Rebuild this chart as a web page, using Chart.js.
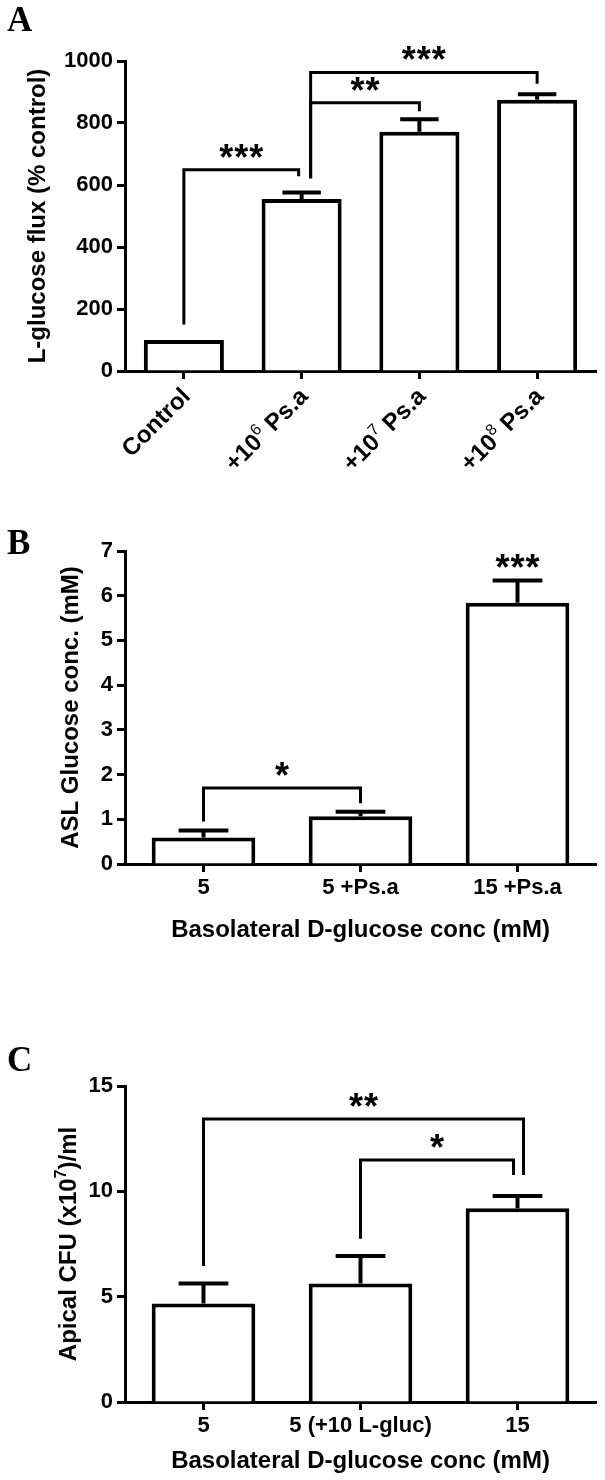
<!DOCTYPE html>
<html>
<head>
<meta charset="utf-8">
<title>L-glucose flux, ASL glucose and apical CFU</title>
<script src="https://cdn.jsdelivr.net/npm/chart.js@4.4.1/dist/chart.umd.min.js"></script>
<style>
  html, body { margin: 0; padding: 0; background: #fff; }
  #page { position: relative; width: 605px; height: 1480px; overflow: hidden; }
  .panel { position: absolute; left: 0; width: 605px; }
</style>
</head>
<body>
<div id="page">
  <div class="panel" style="top:0;height:475px"><canvas id="chartA"></canvas></div>
  <div class="panel" style="top:475px;height:475px"><canvas id="chartB"></canvas></div>
  <div class="panel" style="top:950px;height:530px"><canvas id="chartC"></canvas></div>
</div>
<script>
// ---- panel A : L-glucose flux ----
var labelsA = ['Control', '+10^6 Ps.a', '+10^7 Ps.a', '+10^8 Ps.a'];
var meansA = [100, 555, 772, 875];
var errA = [0, 21, 40, 18];
var ticksA = [0, 200, 400, 600, 800, 1000];
var pairsA = [[0, 1], [1, 2], [1, 3]];
var levelsA = [649, 865, 963];
var legEndsA = [[150, 628], [622, 838], [622, 927]];
var starsA = ['***', '**', '***'];

// ---- panel B : ASL glucose ----
var labelsB = ['5', '5 +Ps.a', '15 +Ps.a'];
var meansB = [0.59, 1.07, 5.84];
var errB = [0.16, 0.10, 0.50];
var ticksB = [0, 1, 2, 3, 4, 5, 6, 7];
var pairsB = [[0, 1]];
var levelsB = [1.70];
var legEndsB = [[0.95, 1.36]];
var starsB = ['*'];
var barStarsB = ['', '', '***'];

// ---- panel C : apical CFU ----
var labelsC = ['5', '5 (+10 L-gluc)', '15'];
var meansC = [4.67, 5.62, 9.2];
var errC = [0.95, 1.31, 0.58];
var ticksC = [0, 5, 10, 15];
var pairsC = [[0, 2], [1, 2]];
var levelsC = [13.43, 11.49];
var legEndsC = [[6.45, 10.77], [7.75, 10.77]];
var starsC = ['**', '*'];

var FAMILY = "'Liberation Sans', Arial, sans-serif";
Chart.defaults.font.family = FAMILY;
Chart.defaults.color = '#000';

// split 'x10^7' style strings into normal / superscript pieces
function pieces(str) {
  return str.split(/\^(\d+)/).map(function(t, i) { return { t: t, sup: i % 2 === 1 }; });
}
function pieceFont(p, size, supWeight) {
  return p.sup ? supWeight + ' ' + Math.round(size * 0.68) + 'px ' + FAMILY : 'bold ' + size + 'px ' + FAMILY;
}
function richWidth(ctx, str, size, supWeight) {
  var w = 0;
  pieces(str).forEach(function(p) { ctx.font = pieceFont(p, size, supWeight); w += ctx.measureText(p.t).width; });
  return w;
}
function drawRich(ctx, str, size, x, y, supWeight) {
  ctx.textAlign = 'left';
  ctx.textBaseline = 'alphabetic';
  pieces(str).forEach(function(p) {
    ctx.font = pieceFont(p, size, supWeight);
    ctx.fillText(p.t, x, p.sup ? y - size * 0.42 : y);
    x += ctx.measureText(p.t).width;
  });
}
function drawStars(ctx, s, cx, cy) {
  ctx.font = 'bold 36px ' + FAMILY;
  ctx.textAlign = 'center';
  ctx.textBaseline = 'alphabetic';
  for (var i = 0; i < s.length; i++) {
    ctx.fillText('*', cx + (i - (s.length - 1) / 2) * 15, cy + 13);
  }
}

var annotate = {
  id: 'annotate',
  afterDraw: function(chart, args, o) {
    var ctx = chart.ctx, xs = chart.scales.x, ys = chart.scales.y, area = chart.chartArea;
    ctx.save();
    ctx.fillStyle = '#000';
    ctx.strokeStyle = '#000';

    // error bars (SEM, upper side only)
    ctx.lineWidth = 4;
    chart.getDatasetMeta(0).data.forEach(function(bar, i) {
      var top = ys.getPixelForValue(o.means[i] + o.err[i]);
      if (o.err[i]) {
        var half = bar.width * 0.24;
        ctx.beginPath();
        ctx.moveTo(bar.x, bar.y);
        ctx.lineTo(bar.x, top);
        ctx.moveTo(bar.x - half, top);
        ctx.lineTo(bar.x + half, top);
        ctx.stroke();
      }
      if (o.barStars && o.barStars[i]) drawStars(ctx, o.barStars[i], bar.x, top - 14);
    });

    // significance brackets
    ctx.lineWidth = 3;
    ctx.lineJoin = 'miter';
    o.pairs.forEach(function(p, k) {
      var x1 = xs.getPixelForValue(p[0]) + o.nudge[k][0];
      var x2 = xs.getPixelForValue(p[1]) + o.nudge[k][1];
      var yl = ys.getPixelForValue(o.levels[k]);
      ctx.beginPath();
      ctx.moveTo(x1, ys.getPixelForValue(o.legEnds[k][0]));
      ctx.lineTo(x1, yl);
      ctx.lineTo(x2, yl);
      ctx.lineTo(x2, ys.getPixelForValue(o.legEnds[k][1]));
      ctx.stroke();
      drawStars(ctx, o.stars[k], (x1 + x2) / 2, yl - 13);
    });

    // panel letter
    ctx.font = "bold 35px 'Liberation Serif', 'Times New Roman', serif";
    ctx.textAlign = 'left';
    ctx.textBaseline = 'alphabetic';
    ctx.fillText(o.letter, 7, o.letterY);

    // y axis title
    ctx.save();
    ctx.translate(o.yTitleX, (area.top + area.bottom) / 2);
    ctx.rotate(-Math.PI / 2);
    drawRich(ctx, o.yTitle, 24, -richWidth(ctx, o.yTitle, 24, 'bold') / 2, 0, 'bold');
    ctx.restore();

    // x axis title
    if (o.xTitle) {
      ctx.font = 'bold 24px ' + FAMILY;
      ctx.textAlign = 'center';
      ctx.fillText(o.xTitle, (area.left + area.right) / 2, o.xTitleY);
    }

    // slanted category labels
    if (o.slanted) {
      o.slanted.forEach(function(lab, i) {
        var px = xs.getPixelForTick(i);
        ctx.save();
        ctx.translate(px + 2, area.bottom + 21);
        ctx.rotate(-Math.PI / 4);
        drawRich(ctx, lab, 24, -richWidth(ctx, lab, 24, 'normal'), 8, 'normal');
        ctx.restore();
      });
    }
    ctx.restore();
  }
};

function makePanel(id, cfg) {
  var axisGrid = { drawOnChartArea: false, drawTicks: true, tickLength: 8, tickWidth: 3, tickColor: '#000', color: '#000', offset: false };
  var axisBorder = { display: true, color: '#000', width: 3 };
  return new Chart(document.getElementById(id), {
    type: 'bar',
    data: {
      labels: cfg.labels.map(function(l) { return l.replace('^', ''); }),
      datasets: [{
        data: cfg.means,
        backgroundColor: '#fff',
        borderColor: '#000',
        borderWidth: 4,
        borderSkipped: 'bottom',
        barPercentage: cfg.barPct,
        categoryPercentage: 1
      }]
    },
    options: {
      responsive: true,
      maintainAspectRatio: false,
      animation: false,
      events: [],
      layout: { padding: { left: 0, right: 9, top: cfg.top, bottom: 0 } },
      plugins: {
        legend: { display: false },
        tooltip: { enabled: false },
        annotate: cfg.annot
      },
      scales: {
        x: {
          grid: axisGrid,
          border: axisBorder,
          ticks: { display: cfg.xTicks, autoRotate: false, maxRotation: 0, autoSkip: false, padding: 3, color: '#000', font: { size: 22, weight: 'bold' } },
          afterFit: function(s) { s.height = cfg.xHeight; }
        },
        y: {
          min: 0,
          max: cfg.yTicks[cfg.yTicks.length - 1],
          afterBuildTicks: function(s) { s.ticks = cfg.yTicks.map(function(v) { return { value: v }; }); },
          grid: axisGrid,
          border: axisBorder,
          ticks: {
            padding: 4, color: '#000', font: { size: 22, weight: 'bold' },
            callback: function(v) { return String(v); }
          },
          afterFit: function(s) { s.width = 125; }
        }
      }
    },
    plugins: [annotate]
  });
}

makePanel('chartA', {
  labels: labelsA, means: meansA, yTicks: ticksA, barPct: 0.68,
  top: 61, xHeight: 104, xTicks: false,
  annot: {
    means: meansA, err: errA, pairs: pairsA, levels: levelsA, legEnds: legEndsA, stars: starsA,
    nudge: [[0, -3], [9, 0], [9, 0]],
    letter: 'A', letterY: 31,
    yTitle: 'L-glucose flux (% control)', yTitleX: 45,
    slanted: labelsA
  }
});

makePanel('chartB', {
  labels: labelsB, means: meansB, yTicks: ticksB, barPct: 0.66,
  top: 76, xHeight: 86, xTicks: true,
  annot: {
    means: meansB, err: errB, pairs: pairsB, levels: levelsB, legEnds: legEndsB, stars: starsB,
    barStars: barStarsB,
    nudge: [[0, 0]],
    letter: 'B', letterY: 79,
    yTitle: 'ASL Glucose conc. (mM)', yTitleX: 78,
    xTitle: 'Basolateral D-glucose conc (mM)', xTitleY: 462
  }
});

makePanel('chartC', {
  labels: labelsC, means: meansC, yTicks: ticksC, barPct: 0.66,
  top: 136, xHeight: 78, xTicks: true,
  annot: {
    means: meansC, err: errC, pairs: pairsC, levels: levelsC, legEnds: legEndsC, stars: starsC,
    nudge: [[0, 6], [0, -4]],
    letter: 'C', letterY: 121,
    yTitle: 'Apical CFU (x10^7)/ml', yTitleX: 76,
    xTitle: 'Basolateral D-glucose conc (mM)', xTitleY: 518
  }
});
</script>
</body>
</html>
